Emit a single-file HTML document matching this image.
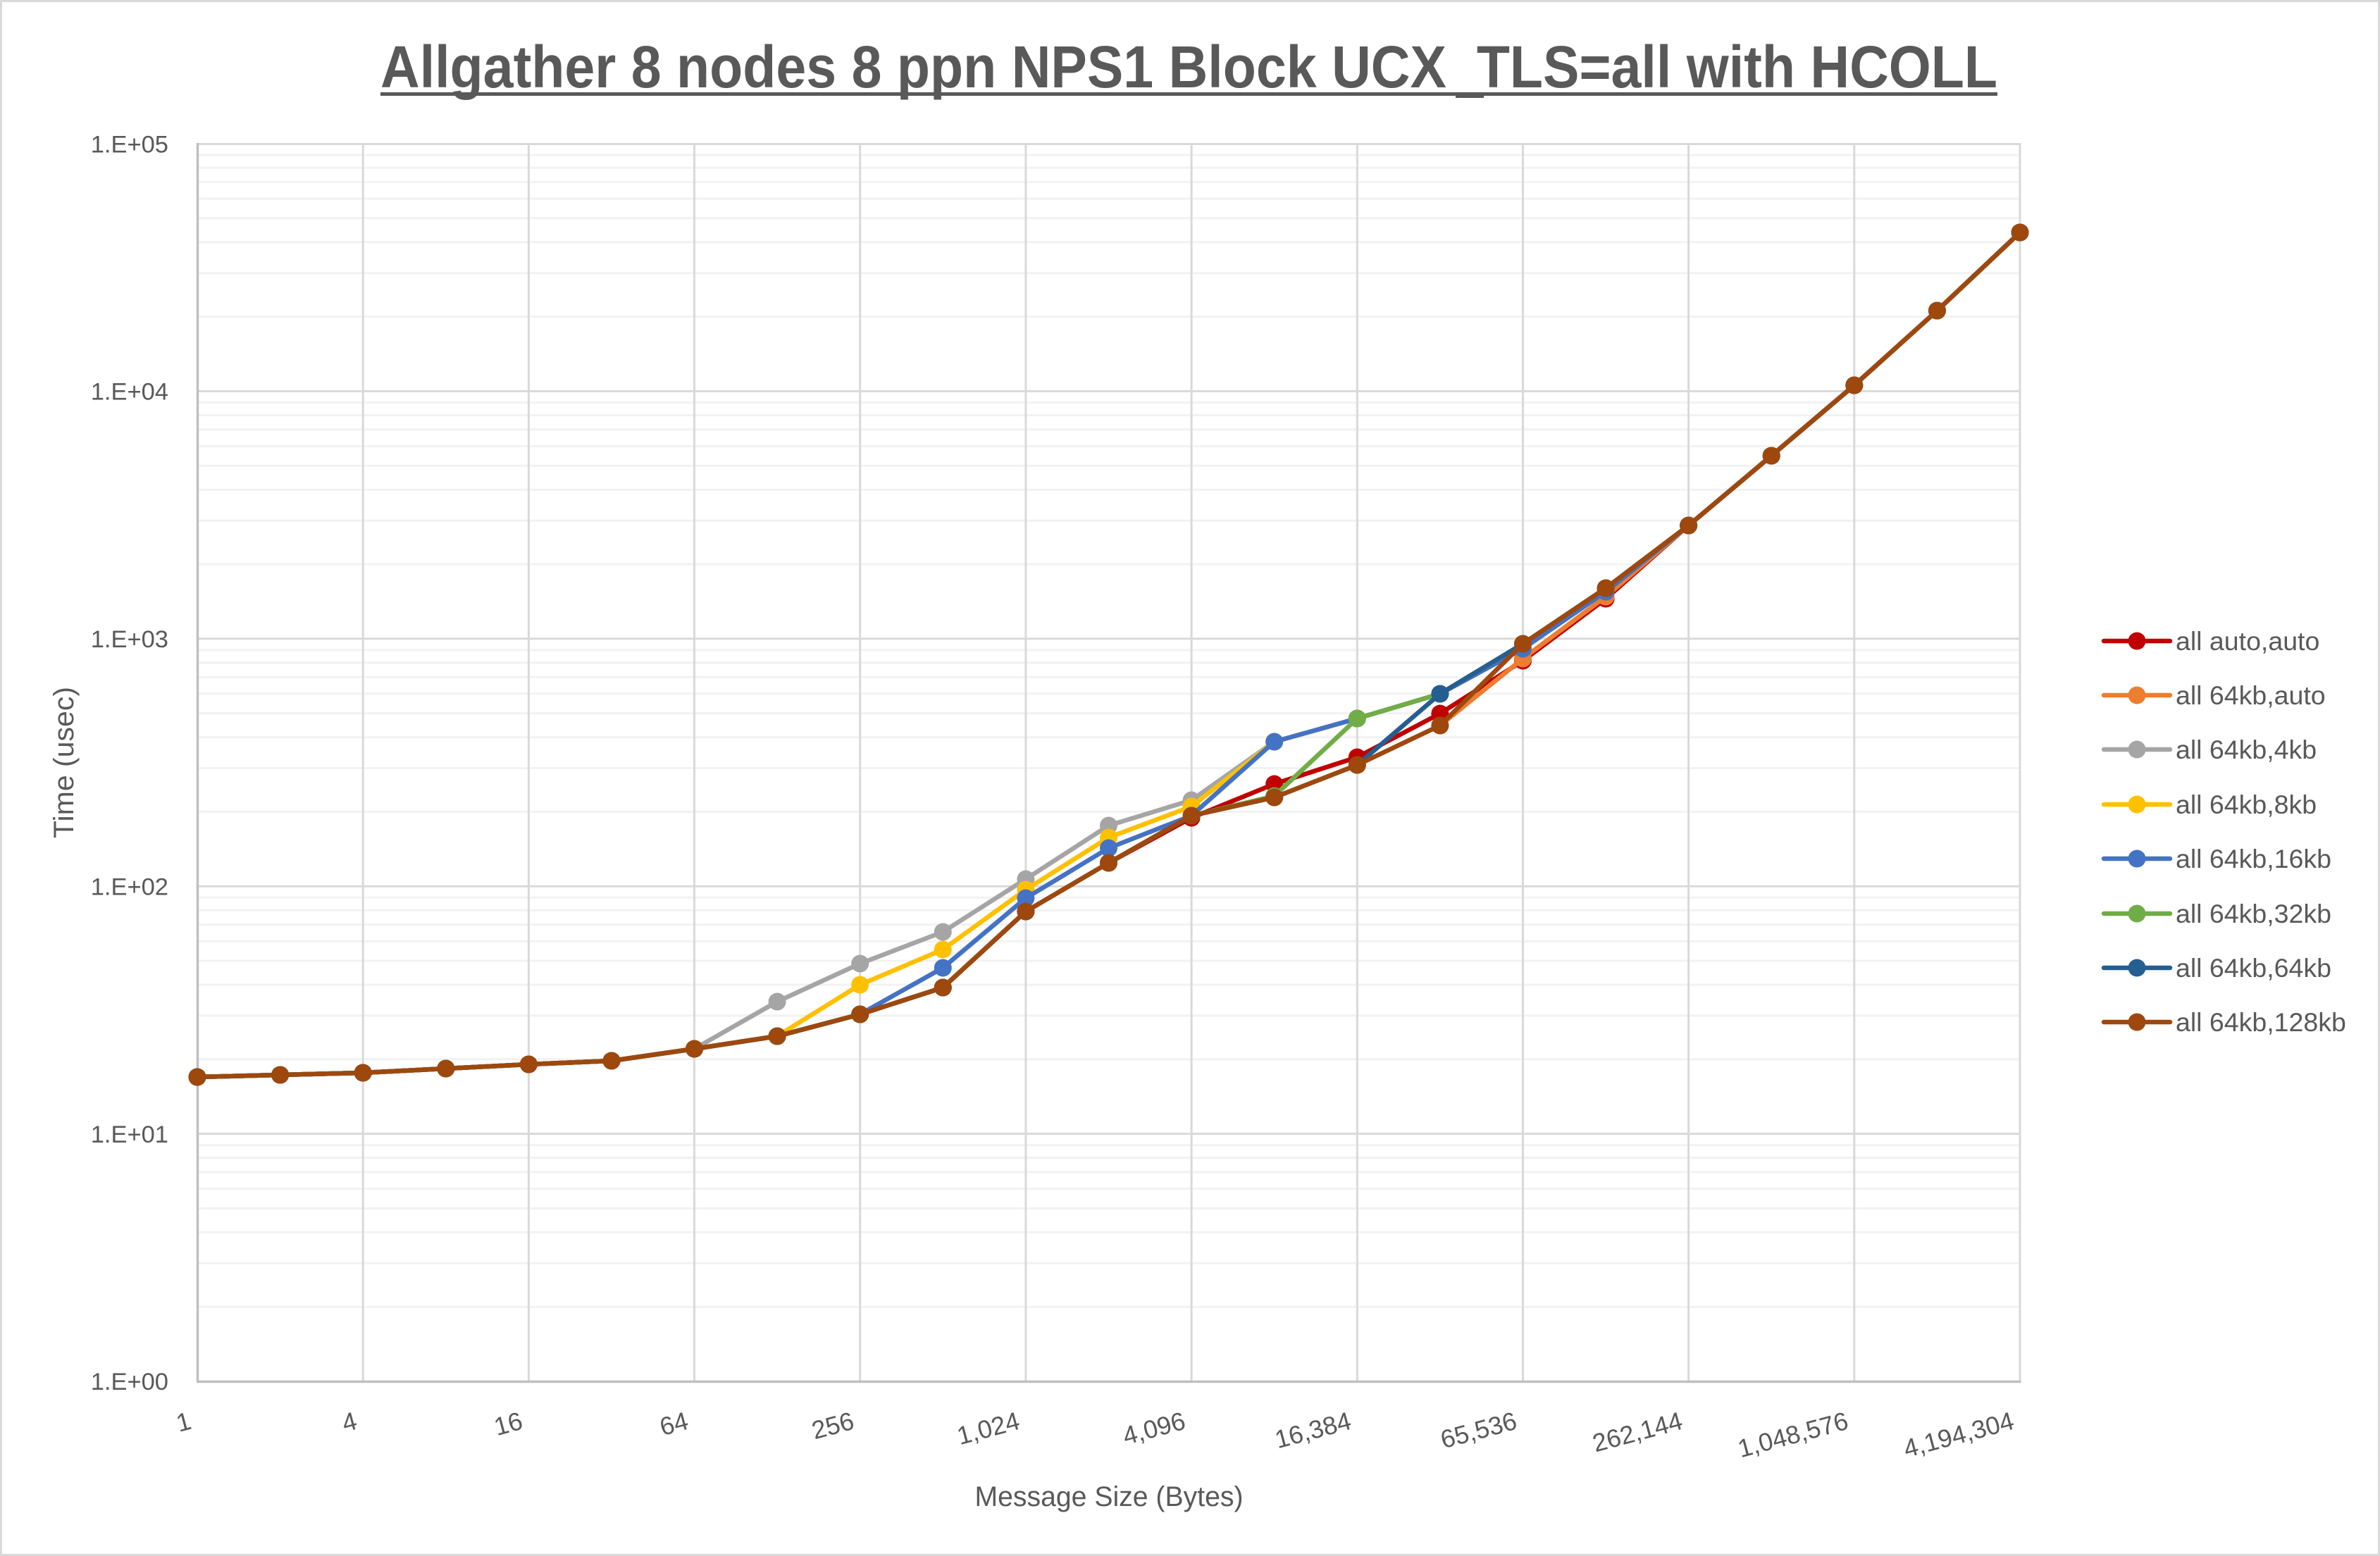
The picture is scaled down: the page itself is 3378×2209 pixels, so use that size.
<!DOCTYPE html>
<html>
<head>
<meta charset="utf-8">
<style>
html,body{margin:0;padding:0;background:#fff;}
svg{display:block;}
text{font-family:"Liberation Sans",Arial,sans-serif;fill:#595959;}
</style>
</head>
<body>
<svg width="3378" height="2209" viewBox="0 0 3378 2209" xmlns="http://www.w3.org/2000/svg">
<defs>
<marker id="m1" markerUnits="userSpaceOnUse" markerWidth="28" markerHeight="28" refX="14" refY="14" overflow="visible"><circle cx="14" cy="14" r="12.5" fill="#C00000"/></marker>
<marker id="m2" markerUnits="userSpaceOnUse" markerWidth="28" markerHeight="28" refX="14" refY="14" overflow="visible"><circle cx="14" cy="14" r="12.5" fill="#ED7D31"/></marker>
<marker id="m3" markerUnits="userSpaceOnUse" markerWidth="28" markerHeight="28" refX="14" refY="14" overflow="visible"><circle cx="14" cy="14" r="12.5" fill="#A5A5A5"/></marker>
<marker id="m4" markerUnits="userSpaceOnUse" markerWidth="28" markerHeight="28" refX="14" refY="14" overflow="visible"><circle cx="14" cy="14" r="12.5" fill="#FFC000"/></marker>
<marker id="m5" markerUnits="userSpaceOnUse" markerWidth="28" markerHeight="28" refX="14" refY="14" overflow="visible"><circle cx="14" cy="14" r="12.5" fill="#4472C4"/></marker>
<marker id="m6" markerUnits="userSpaceOnUse" markerWidth="28" markerHeight="28" refX="14" refY="14" overflow="visible"><circle cx="14" cy="14" r="12.5" fill="#70AD47"/></marker>
<marker id="m7" markerUnits="userSpaceOnUse" markerWidth="28" markerHeight="28" refX="14" refY="14" overflow="visible"><circle cx="14" cy="14" r="12.5" fill="#255E91"/></marker>
<marker id="m8" markerUnits="userSpaceOnUse" markerWidth="28" markerHeight="28" refX="14" refY="14" overflow="visible"><circle cx="14" cy="14" r="12.5" fill="#9E480E"/></marker>
</defs>

<!-- outer border -->
<rect x="1.5" y="1.5" width="3375" height="2206" fill="#fff" stroke="#d9d9d9" stroke-width="3"/>

<!-- title -->
<text x="540" y="124" font-size="84" font-weight="bold" textLength="2295" lengthAdjust="spacingAndGlyphs">Allgather 8 nodes 8 ppn NPS1 Block UCX_TLS=all with HCOLL</text>
<rect x="540" y="131" width="2295" height="5" fill="#595959"/>
<rect x="2066" y="131" width="40" height="8" fill="#595959"/>

<!-- minor gridlines -->
<path fill="none" stroke="#f2f2f2" stroke-width="3" d="
M280 1855.2H2867M280 1793.3H2867M280 1749.4H2867M280 1715.4H2867M280 1687.6H2867M280 1664H2867M280 1643.7H2867M280 1625.7H2867
M280 1503.8H2867M280 1441.9H2867M280 1398H2867M280 1364H2867M280 1336.2H2867M280 1312.6H2867M280 1292.3H2867M280 1274.3H2867
M280 1152.4H2867M280 1090.5H2867M280 1046.6H2867M280 1012.6H2867M280 984.8H2867M280 961.2H2867M280 940.9H2867M280 922.9H2867
M280 801H2867M280 739.1H2867M280 695.2H2867M280 661.2H2867M280 633.4H2867M280 609.8H2867M280 589.5H2867M280 571.5H2867
M280 449.6H2867M280 387.7H2867M280 343.8H2867M280 309.8H2867M280 282H2867M280 258.4H2867M280 238.1H2867M280 220.1H2867"/>

<!-- major gridlines -->
<path fill="none" stroke="#d9d9d9" stroke-width="3" d="
M280 204.5H2868.5M280 555.4H2867M280 906.8H2867M280 1258.2H2867M280 1609.6H2867
M515.2 204V1961M750.4 204V1961M985.5 204V1961M1220.7 204V1961M1455.9 204V1961M1691.1 204V1961M1926.3 204V1961M2161.5 204V1961M2396.6 204V1961M2631.8 204V1961M2867 204V1961"/>

<!-- axes -->
<path fill="none" stroke="#bfbfbf" stroke-width="3.5" d="M280.5 203V1961.5M279 1961.5H2868.5"/>

<!-- y tick labels -->
<g font-size="34.5" text-anchor="end">
<text x="239" y="216.5">1.E+05</text>
<text x="239" y="567.5">1.E+04</text>
<text x="239" y="919">1.E+03</text>
<text x="239" y="1270.5">1.E+02</text>
<text x="239" y="1622">1.E+01</text>
<text x="239" y="1973">1.E+00</text>
</g>

<!-- x tick labels -->
<g font-size="36" text-anchor="end">
<text transform="translate(273.5,2028) rotate(-15)">1</text>
<text transform="translate(508.7,2028) rotate(-15)">4</text>
<text transform="translate(743.9,2028) rotate(-15)">16</text>
<text transform="translate(979,2028) rotate(-15)">64</text>
<text transform="translate(1214.2,2028) rotate(-15)">256</text>
<text transform="translate(1449.4,2028) rotate(-15)">1,024</text>
<text transform="translate(1684.6,2028) rotate(-15)">4,096</text>
<text transform="translate(1919.8,2028) rotate(-15)">16,384</text>
<text transform="translate(2155,2028) rotate(-15)">65,536</text>
<text transform="translate(2390.1,2028) rotate(-15)">262,144</text>
<text transform="translate(2625.3,2028) rotate(-15)">1,048,576</text>
<text transform="translate(2860.5,2028) rotate(-15)">4,194,304</text>
</g>

<!-- axis titles -->
<text x="1574" y="2138" font-size="40" text-anchor="middle" textLength="381" lengthAdjust="spacingAndGlyphs">Message Size (Bytes)</text>
<text transform="translate(104,1082.5) rotate(-90)" font-size="40" text-anchor="middle" textLength="215" lengthAdjust="spacingAndGlyphs">Time (usec)</text>

<!-- series -->
<g fill="none" stroke-width="6.5" stroke-linejoin="round" stroke-linecap="round">
<polyline stroke="#C00000" marker-start="url(#m1)" marker-mid="url(#m1)" marker-end="url(#m1)" points="280,1529 397.6,1526 515.2,1523 632.8,1517 750.4,1511 868,1506 985.5,1489 1103.1,1471 1220.7,1440 1338.3,1402 1455.9,1294 1573.5,1225 1691.1,1161 1808.7,1113 1926.3,1075 2043.9,1013 2161.5,938 2279.1,850 2396.6,746 2514.2,647 2631.8,547 2749.4,441 2867,330"/>
<polyline stroke="#ED7D31" marker-start="url(#m2)" marker-mid="url(#m2)" marker-end="url(#m2)" points="280,1529 397.6,1526 515.2,1523 632.8,1517 750.4,1511 868,1506 985.5,1489 1103.1,1471 1220.7,1440 1338.3,1402 1455.9,1294 1573.5,1225 1691.1,1158 1808.7,1132 1926.3,1086 2043.9,1030 2161.5,935 2279.1,847 2396.6,746 2514.2,647 2631.8,547 2749.4,441 2867,330"/>
<polyline stroke="#A5A5A5" marker-start="url(#m3)" marker-mid="url(#m3)" marker-end="url(#m3)" points="280,1529 397.6,1526 515.2,1523 632.8,1517 750.4,1511 868,1506 985.5,1489 1103.1,1422 1220.7,1368 1338.3,1323 1455.9,1248 1573.5,1172 1691.1,1136 1808.7,1053 1926.3,1020 2043.9,985 2161.5,914 2279.1,835 2396.6,746 2514.2,647 2631.8,547 2749.4,441 2867,330"/>
<polyline stroke="#FFC000" marker-start="url(#m4)" marker-mid="url(#m4)" marker-end="url(#m4)" points="280,1529 397.6,1526 515.2,1523 632.8,1517 750.4,1511 868,1506 985.5,1489 1103.1,1471 1220.7,1398 1338.3,1348 1455.9,1263 1573.5,1189 1691.1,1145 1808.7,1053 1926.3,1020 2043.9,985 2161.5,914 2279.1,835 2396.6,746 2514.2,647 2631.8,547 2749.4,441 2867,330"/>
<polyline stroke="#4472C4" marker-start="url(#m5)" marker-mid="url(#m5)" marker-end="url(#m5)" points="280,1529 397.6,1526 515.2,1523 632.8,1517 750.4,1511 868,1506 985.5,1489 1103.1,1471 1220.7,1440 1338.3,1374 1455.9,1275 1573.5,1204 1691.1,1158 1808.7,1053 1926.3,1020 2043.9,985 2161.5,921 2279.1,840 2396.6,746 2514.2,647 2631.8,547 2749.4,441 2867,330"/>
<polyline stroke="#70AD47" marker-start="url(#m6)" marker-mid="url(#m6)" marker-end="url(#m6)" points="280,1529 397.6,1526 515.2,1523 632.8,1517 750.4,1511 868,1506 985.5,1489 1103.1,1471 1220.7,1440 1338.3,1402 1455.9,1294 1573.5,1225 1691.1,1158 1808.7,1130 1926.3,1020 2043.9,985 2161.5,914 2279.1,835 2396.6,746 2514.2,647 2631.8,547 2749.4,441 2867,330"/>
<polyline stroke="#255E91" marker-start="url(#m7)" marker-mid="url(#m7)" marker-end="url(#m7)" points="280,1529 397.6,1526 515.2,1523 632.8,1517 750.4,1511 868,1506 985.5,1489 1103.1,1471 1220.7,1440 1338.3,1402 1455.9,1294 1573.5,1225 1691.1,1158 1808.7,1132 1926.3,1086 2043.9,985 2161.5,914 2279.1,835 2396.6,746 2514.2,647 2631.8,547 2749.4,441 2867,330"/>
<polyline stroke="#9E480E" marker-start="url(#m8)" marker-mid="url(#m8)" marker-end="url(#m8)" points="280,1529 397.6,1526 515.2,1523 632.8,1517 750.4,1511 868,1506 985.5,1489 1103.1,1471 1220.7,1440 1338.3,1402 1455.9,1294 1573.5,1225 1691.1,1158 1808.7,1132 1926.3,1086 2043.9,1030 2161.5,914 2279.1,835 2396.6,746 2514.2,647 2631.8,547 2749.4,441 2867,330"/>
</g>

<!-- legend -->
<g stroke-width="6.5" stroke-linecap="round">
<line x1="2986" y1="910" x2="3080" y2="910" stroke="#C00000"/>
<line x1="2986" y1="987" x2="3080" y2="987" stroke="#ED7D31"/>
<line x1="2986" y1="1064" x2="3080" y2="1064" stroke="#A5A5A5"/>
<line x1="2986" y1="1142" x2="3080" y2="1142" stroke="#FFC000"/>
<line x1="2986" y1="1219" x2="3080" y2="1219" stroke="#4472C4"/>
<line x1="2986" y1="1297" x2="3080" y2="1297" stroke="#70AD47"/>
<line x1="2986" y1="1374" x2="3080" y2="1374" stroke="#255E91"/>
<line x1="2986" y1="1451" x2="3080" y2="1451" stroke="#9E480E"/>
</g>
<g>
<circle cx="3033" cy="910" r="12.5" fill="#C00000"/>
<circle cx="3033" cy="987" r="12.5" fill="#ED7D31"/>
<circle cx="3033" cy="1064" r="12.5" fill="#A5A5A5"/>
<circle cx="3033" cy="1142" r="12.5" fill="#FFC000"/>
<circle cx="3033" cy="1219" r="12.5" fill="#4472C4"/>
<circle cx="3033" cy="1297" r="12.5" fill="#70AD47"/>
<circle cx="3033" cy="1374" r="12.5" fill="#255E91"/>
<circle cx="3033" cy="1451" r="12.5" fill="#9E480E"/>
</g>
<g font-size="37.5">
<text x="3088" y="923">all auto,auto</text>
<text x="3088" y="1000">all 64kb,auto</text>
<text x="3088" y="1077">all 64kb,4kb</text>
<text x="3088" y="1155">all 64kb,8kb</text>
<text x="3088" y="1232">all 64kb,16kb</text>
<text x="3088" y="1310">all 64kb,32kb</text>
<text x="3088" y="1387">all 64kb,64kb</text>
<text x="3088" y="1464">all 64kb,128kb</text>
</g>
</svg>
</body>
</html>
